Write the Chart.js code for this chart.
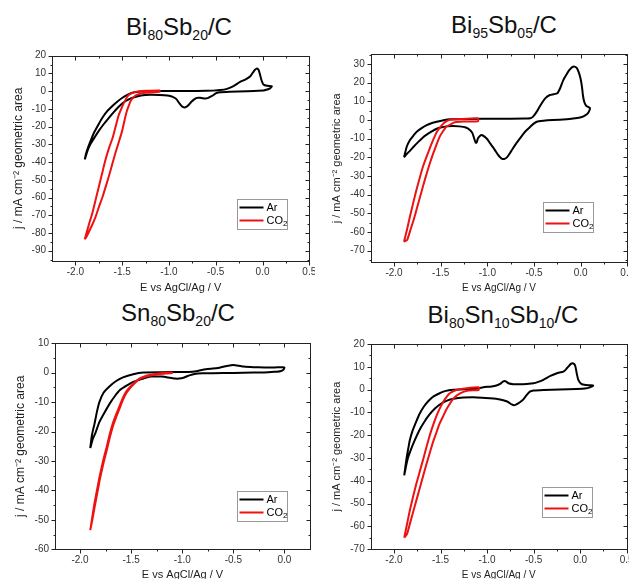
<!DOCTYPE html>
<html>
<head>
<meta charset="utf-8">
<script src="https://cdn.jsdelivr.net/npm/chart.js@4.4.1/dist/chart.umd.min.js"></script>
<style>
  html, body { margin: 0; padding: 0; background: #fff; overflow: hidden; }
  body { width: 629px; height: 579px; position: relative; font-family: 'Liberation Sans', Arial, sans-serif; }
  canvas { position: absolute; }
  .ttl { position: absolute; width: 240px; text-align: center; font-size: 24px; font-weight: 400; line-height: 24px; color: #111; white-space: nowrap; }
  .ttl span { font-size: 14px; position: relative; top: 5px; }
</style>
</head>
<body>
<div class="ttl" style="left:59px;top:15px">Bi<span>80</span>Sb<span>20</span>/C</div>
<div class="ttl" style="left:384px;top:13px">Bi<span>95</span>Sb<span>05</span>/C</div>
<div class="ttl" style="left:58px;top:301px">Sn<span>80</span>Sb<span>20</span>/C</div>
<div class="ttl" style="left:383px;top:303px">Bi<span>80</span>Sn<span>10</span>Sb<span>10</span>/C</div>

<canvas id="c1" width="315" height="255" style="left:0;top:40px"></canvas>
<canvas id="c2" width="311" height="255" style="left:318px;top:40px"></canvas>
<canvas id="c3" width="315" height="260" style="left:0;top:330px"></canvas>
<canvas id="c4" width="311" height="260" style="left:318px;top:330px"></canvas>

<script>
// Bi80Sb20/C
const bi80sb20ArE = [-1.90, -1.885, -1.864, -1.83, -1.80, -1.75, -1.71, -1.66, -1.605, -1.55, -1.497, -1.44, -1.39, -1.33, -1.28, -1.10, -0.80, -0.60, -0.53, -0.45, -0.38, -0.31, -0.24, -0.18, -0.13, -0.09, -0.07, -0.055, -0.04, -0.025, -0.01, 0.01, 0.05, 0.10,
  0.08, 0.05, 0.01, -0.17, -0.35, -0.47, -0.50, -0.52, -0.55, -0.58, -0.61, -0.64, -0.67, -0.70, -0.73, -0.76, -0.79, -0.815, -0.835, -0.86, -0.89, -0.92, -0.96, -1.0, -1.05, -1.10, -1.20, -1.30, -1.38, -1.43, -1.49, -1.54, -1.59, -1.64, -1.70, -1.75, -1.80, -1.84, -1.87, -1.90];
const bi80sb20ArJ = [-38.5, -35, -31.7, -27, -23.3, -18.5, -14.9, -11.3, -8.4, -5.8, -3.7, -2.0, -0.9, -0.3, 0, 0.1, 0.1, 0.2, 0.3, 0.6, 1.3, 2.8, 5.2, 6.6, 8.4, 11.5, 12.5, 12.7, 11.8, 9, 6, 3.8, 3.0, 2.7,
  1.6, 0.9, 0.4, 0, -0.3, -0.7, -1.2, -2.0, -3.0, -3.8, -4.2, -4.0, -3.7, -3.8, -4.6, -6.0, -7.8, -8.9, -9.2, -8.6, -6.8, -4.5, -3.2, -2.6, -2.3, -2.1, -2.0, -2.5, -3.6, -4.6, -6.5, -8.9, -11.8, -14.9, -18.8, -22.4, -26.5, -29.9, -33.5, -38.5];
const bi80sb20Co2E = [-1.90, -1.86, -1.82, -1.785, -1.75, -1.715, -1.68, -1.64, -1.60, -1.57, -1.54, -1.51, -1.48, -1.455, -1.43, -1.39, -1.35, -1.30, -1.25, -1.10,
  -1.10, -1.25, -1.30, -1.35, -1.38, -1.41, -1.43, -1.45, -1.475, -1.50, -1.535, -1.57, -1.605, -1.64, -1.675, -1.71, -1.75, -1.785, -1.83, -1.88, -1.90];
const bi80sb20Co2J = [-83.6, -76, -69, -61.5, -54, -46.5, -39, -32, -26, -20, -14, -10, -6.5, -4, -2.2, -1.0, -0.4, 0, 0.2, 0.4,
  -0.4, -0.9, -1.4, -2.2, -3.5, -5.6, -8.3, -11.2, -16.5, -22.4, -28.5, -34.5, -41, -47.6, -53.7, -59.7, -65.5, -71, -76.5, -82, -83.6];

// Bi95Sb05/C
const bi95sb05ArE = [-1.893, -1.864, -1.829, -1.79, -1.757, -1.70, -1.65, -1.60, -1.543, -1.47, -1.40, -1.2, -0.9, -0.6, -0.54, -0.51, -0.47, -0.44, -0.41, -0.38, -0.33, -0.29, -0.25, -0.22, -0.186, -0.15, -0.12, -0.09, -0.065, -0.04, -0.02, 0.0, 0.015, 0.025, 0.04, 0.06, 0.08, 0.10,
  0.09, 0.07, 0.03, -0.007, -0.08, -0.15, -0.3, -0.4, -0.47, -0.51, -0.54, -0.58, -0.61, -0.65, -0.69, -0.73, -0.76, -0.79, -0.82, -0.85, -0.88, -0.91, -0.94, -0.97, -1.0, -1.03, -1.06, -1.08, -1.1, -1.115, -1.125, -1.14, -1.16, -1.19, -1.23, -1.3, -1.37, -1.44, -1.5, -1.55, -1.6, -1.65, -1.69, -1.74, -1.79, -1.83, -1.864, -1.893];
const bi95sb05ArJ = [-20, -14.3, -10.7, -8.2, -6.25, -4.2, -2.7, -1.7, -0.9, -0.1, 0.4, 0.6, 0.7, 0.8, 0.9, 1.8, 4.5, 7.1, 9.5, 11.6, 13.4, 13.8, 14.3, 17, 21.4, 24.5, 26.8, 28.3, 28.6, 27.8, 25.5, 22, 17.5, 13, 9.5, 7.6, 7.0, 6.4,
  4.6, 3.2, 2.0, 1.4, 0.8, 0.4, 0, -0.4, -0.9, -2.2, -3.6, -5.5, -7.1, -9.8, -12.5, -15.5, -17.9, -20, -20.9, -20.5, -19, -16.8, -14.5, -12.5, -10.3, -8.9, -8.0, -8.5, -9.8, -12.0, -12.2, -10, -7, -5.2, -4.0, -3.4, -3.2, -3.4, -4.0, -4.8, -6.2, -7.8, -9.3, -11.7, -14.3, -16.5, -18.2, -20];
const bi95sb05Co2E = [-1.893, -1.86, -1.83, -1.795, -1.76, -1.725, -1.69, -1.65, -1.61, -1.575, -1.54, -1.505, -1.47, -1.43, -1.40, -1.29, -1.10,
  -1.10, -1.26, -1.33, -1.36, -1.40, -1.44, -1.475, -1.51, -1.545, -1.58, -1.615, -1.65, -1.685, -1.72, -1.755, -1.79, -1.825, -1.86, -1.893];
const bi95sb05Co2J = [-65.2, -58.5, -51.8, -44.5, -37.5, -31, -25, -19.5, -14.3, -10, -6.25, -3.8, -1.8, -0.5, 0.1, 0.5, 0.9,
  -0.7, -0.8, -1.1, -1.4, -2.5, -3.6, -6, -8.9, -13.2, -17.9, -23, -28.6, -34.7, -41, -47.3, -53.6, -59, -64.3, -65.2];

// Sn80Sb20/C
const sn80sb20ArE = [-1.90, -1.885, -1.87, -1.858, -1.835, -1.81, -1.77, -1.71, -1.65, -1.58, -1.48, -1.38, -1.2, -1.0, -0.9, -0.85, -0.8, -0.75, -0.7, -0.65, -0.6, -0.55, -0.5, -0.45, -0.4, -0.3, -0.2, -0.1, -0.02, 0.0,
  -0.01, -0.04, -0.1, -0.2, -0.4, -0.6, -0.8, -0.88, -0.93, -0.98, -1.03, -1.07, -1.12, -1.2, -1.3, -1.35, -1.42, -1.48, -1.55, -1.61, -1.66, -1.71, -1.76, -1.81, -1.85, -1.874, -1.90];
const sn80sb20ArJ = [-25.6, -21.5, -19, -17.3, -13.3, -9.9, -6.8, -4.6, -2.9, -1.6, -0.5, 0.1, 0.2, 0.25, 0.35, 0.6, 1.0, 1.3, 1.4, 1.6, 2.0, 2.4, 2.6, 2.4, 2.1, 1.9, 1.8, 1.8, 1.9, 1.8,
  1.0, 0.5, 0.3, 0.1, 0, -0.1, -0.2, -0.4, -0.9, -1.6, -2.0, -2.0, -1.7, -1.3, -1.3, -1.6, -2.4, -3.1, -4.5, -5.9, -8.0, -10.5, -13.5, -16.7, -20.5, -22.4, -25.6];
const sn80sb20Co2E = [-1.90, -1.88, -1.86, -1.835, -1.81, -1.775, -1.74, -1.71, -1.68, -1.645, -1.61, -1.58, -1.55, -1.515, -1.48, -1.42, -1.37, -1.32, -1.22, -1.10,
  -1.10, -1.22, -1.32, -1.37, -1.42, -1.475, -1.51, -1.545, -1.575, -1.605, -1.64, -1.675, -1.705, -1.735, -1.77, -1.805, -1.83, -1.855, -1.877, -1.90];
const sn80sb20Co2J = [-53.5, -49, -44.6, -40, -35.5, -30, -25.3, -21, -17.3, -14, -11, -8.5, -6.5, -5, -3.7, -2, -1.3, -0.8, -0.2, 0.1,
  -0.1, -0.4, -1.0, -1.5, -2.2, -3.9, -5.2, -6.8, -8.8, -11.4, -14.5, -17.8, -21.5, -25.8, -30.6, -36, -40.6, -45.2, -49.5, -53.5];

// Bi80Sn10Sb10/C
const bi80sn10sb10ArE = [-1.89, -1.875, -1.863, -1.845, -1.83, -1.80, -1.77, -1.73, -1.68, -1.63, -1.58, -1.52, -1.47, -1.41, -1.36, -1.22, -1.10, -1.04, -0.95, -0.90, -0.86, -0.83, -0.81, -0.79, -0.77, -0.72, -0.61, -0.50, -0.45, -0.395, -0.32, -0.25, -0.18, -0.15, -0.127, -0.10, -0.08, -0.065, -0.055, -0.045, -0.037, -0.02, 0.016, 0.06, 0.105, 0.14,
  0.105, 0.05, -0.037, -0.22, -0.395, -0.50, -0.54, -0.575, -0.61, -0.64, -0.665, -0.69, -0.71, -0.735, -0.76, -0.79, -0.86, -0.97, -1.11, -1.255, -1.36, -1.43, -1.50, -1.56, -1.62, -1.68, -1.73, -1.78, -1.82, -1.85, -1.87, -1.89];
const bi80sn10sb10ArJ = [-37.6, -33, -29.6, -25.5, -22.2, -18, -14.9, -11, -7.5, -5.0, -3.1, -1.8, -0.9, -0.3, -0.1, 0.15, 0.5, 1.0, 1.4, 1.8, 2.5, 3.5, 3.8, 3.4, 2.8, 2.4, 2.4, 2.8, 3.4, 4.3, 6.0, 7.2, 7.9, 9.0, 10.1, 11.3, 11.6, 11.2, 10.6, 9, 7.2, 4.3, 2.4, 2.0, 1.9, 1.8,
  1.0, 0.5, 0.3, 0.0, -0.15, -0.4, -0.9, -2.4, -4.3, -5.3, -6.0, -6.6, -6.9, -6.5, -5.8, -5.1, -4.3, -3.8, -3.4, -3.5, -4.0, -4.8, -6.3, -8.3, -11, -14.5, -18, -22.5, -26.5, -30, -33.5, -37.6];
const bi80sn10sb10Co2E = [-1.89, -1.86, -1.83, -1.795, -1.76, -1.72, -1.68, -1.645, -1.61, -1.575, -1.54, -1.505, -1.47, -1.435, -1.40, -1.33, -1.22, -1.09,
  -1.09, -1.20, -1.29, -1.36, -1.43, -1.47, -1.51, -1.545, -1.58, -1.615, -1.65, -1.685, -1.72, -1.755, -1.79, -1.825, -1.86, -1.89];
const bi80sn10sb10Co2J = [-64.9, -59, -53, -47, -41.3, -35.5, -29.6, -24.3, -19.3, -15, -11.2, -8, -5.3, -3.2, -1.6, -0.15, 0.6, 1.0,
  -0.15, -0.4, -1.6, -3.8, -8.2, -11.5, -14.9, -18.9, -22.9, -27.7, -32.5, -37.6, -42.8, -47.9, -53, -58.2, -63.4, -64.9];

const seriesLabels = ['Ar', 'CO₂'];
const seriesColors = ['#000000', '#ee1111'];
const xTitle = 'E vs AgCl/Ag / V';
const yTitle = 'j / mA cm⁻² geometric area';
const FONT = "'Liberation Sans', Arial, sans-serif";

// 枠と内向き/外向きの目盛り
const framePlugin = {
  id: 'frame',
  afterDatasetsDraw(chart) {
    const { ctx, chartArea: a, scales: { x, y } } = chart;
    const marks = s => {
      const t = s.ticks.map(k => k.value);
      const step = t[1] - t[0];
      const out = t.map(v => [v, 4]);
      t.forEach(v => [v - step / 2, v + step / 2].forEach(m => {
        if (m > s.min && m < s.max && !out.some(o => Math.abs(o[0] - m) < 1e-6)) out.push([m, 2]);
      }));
      return out;
    };
    const line = (x1, y1, x2, y2) => { ctx.beginPath(); ctx.moveTo(x1, y1); ctx.lineTo(x2, y2); ctx.stroke(); };
    ctx.save();
    ctx.strokeStyle = '#222';
    ctx.lineWidth = 1;
    const L = Math.round(a.left) + 0.5, T = Math.round(a.top) + 0.5, R = Math.round(a.right) + 0.5, B = Math.round(a.bottom) + 0.5;
    ctx.strokeRect(L, T, R - L, B - T);
    marks(x).forEach(([v, len]) => {
      const px = Math.round(x.getPixelForValue(v)) + 0.5;
      line(px, B, px, B + len);
      line(px, T, px, T + len);
    });
    marks(y).forEach(([v, len]) => {
      const py = Math.round(y.getPixelForValue(v)) + 0.5;
      line(L - len, py, L, py);
      line(R, py, R - len, py);
    });
    ctx.restore();
  }
};

// 枠付きの凡例（右下）
const boxLegend = {
  id: 'boxLegend',
  afterDraw(chart, args, opts) {
    const { ctx, chartArea: a } = chart;
    const w = 50, h = 30;
    const x = Math.round(a.right - opts.right - w) + 0.5;
    const y = Math.round(a.bottom - opts.bottom - h) + 0.5;
    ctx.save();
    ctx.fillStyle = '#fff';
    ctx.fillRect(x, y, w, h);
    ctx.strokeStyle = '#999';
    ctx.lineWidth = 1;
    ctx.strokeRect(x, y, w, h);
    chart.data.datasets.forEach((ds, i) => {
      const ly = y + 8 + i * 13;
      ctx.strokeStyle = ds.borderColor;
      ctx.lineWidth = 2;
      ctx.beginPath();
      ctx.moveTo(x + 2, ly);
      ctx.lineTo(x + 26, ly);
      ctx.stroke();
      ctx.fillStyle = '#000';
      ctx.textBaseline = 'middle';
      let tx = x + 29;
      for (const ch of ds.label) {
        const code = ch.charCodeAt(0);
        if (code >= 0x2080 && code <= 0x2089) {
          ctx.font = `8px ${FONT}`;
          const d = String(code - 0x2080);
          ctx.fillText(d, tx, ly + 3);
          tx += ctx.measureText(d).width;
        } else {
          ctx.font = `11px ${FONT}`;
          ctx.fillText(ch, tx, ly);
          tx += ctx.measureText(ch).width;
        }
      }
    });
    ctx.restore();
  }
};

const panels = [
  { id: 'c1', ar: [bi80sb20ArE, bi80sb20ArJ], co2: [bi80sb20Co2E, bi80sb20Co2J], xMin: -2.25, xMax: 0.5, yMin: -95.8, yMax: 20,
    yw: 52, xh: 34, pad: { top: 15.7, right: 5.7 }, yTitlePad: 11.8, xTitlePad: 0, yTitleSize: 12, xTitleSize: 11, legend: { right: 22, bottom: 32 } },
  { id: 'c2', ar: [bi95sb05ArE, bi95sb05ArJ], co2: [bi95sb05Co2E, bi95sb05Co2J], xMin: -2.25, xMax: 0.5, yMin: -76.2, yMax: 35.2,
    yw: 52.7, xh: 32.7, pad: { top: 14.3, right: 1.7 }, yTitlePad: 12.4, xTitlePad: 1, yTitleSize: 11, xTitleSize: 10, legend: { right: 34, bottom: 30 } },
  { id: 'c3', ar: [sn80sb20ArE, sn80sb20ArJ], co2: [sn80sb20Co2E, sn80sb20Co2J], xMin: -2.245, xMax: 0.25, yMin: -60, yMax: 10,
    yw: 55, xh: 40.7, pad: { top: 13.3, right: 5 }, yTitlePad: 13.5, xTitlePad: 8, yTitleSize: 12, xTitleSize: 11, legend: { right: 23, bottom: 28 } },
  { id: 'c4', ar: [bi80sn10sb10ArE, bi80sn10sb10ArJ], co2: [bi80sn10sb10Co2E, bi80sn10sb10Co2J], xMin: -2.25, xMax: 0.5, yMin: -70, yMax: 20,
    yw: 52.7, xh: 40.7, pad: { top: 14, right: 2.3 }, yTitlePad: 12.2, xTitlePad: 8.5, yTitleSize: 11, xTitleSize: 10, legend: { right: 34.5, bottom: 32 } }
];

const toPoints = (es, js) => es.map((e, i) => ({ x: e, y: js[i] }));

panels.forEach(p => {
  const ctx = document.getElementById(p.id).getContext('2d');
  new Chart(ctx, {
    type: 'scatter',
    data: {
      datasets: [p.ar, p.co2].map((s, i) => ({
        label: seriesLabels[i],
        data: toPoints(s[0], s[1]),
        showLine: true,
        borderColor: seriesColors[i],
        backgroundColor: seriesColors[i],
        borderWidth: 2,
        pointRadius: 0,
        tension: 0.15,
        order: 1 - i
      }))
    },
    options: {
      responsive: false,
      animation: false,
      layout: { padding: { left: 0, top: p.pad.top, right: p.pad.right, bottom: 0 } },
      plugins: {
        legend: { display: false },
        tooltip: { enabled: false },
        boxLegend: p.legend
      },
      scales: {
        x: {
          type: 'linear',
          min: p.xMin,
          max: p.xMax,
          afterFit: s => { s.height = p.xh; s.paddingLeft = 0; s.paddingRight = 0; },
          grid: { display: true, drawOnChartArea: false, drawTicks: true, tickLength: 4, tickColor: 'rgba(0,0,0,0)' },
          border: { display: false },
          ticks: {
            stepSize: 0.5, includeBounds: false, autoSkip: false, maxRotation: 0, padding: 1,
            color: '#333', font: { family: FONT, size: 10 },
            callback: v => (Math.abs(v) < 1e-9 ? 0 : v).toFixed(1)
          },
          title: { display: true, text: xTitle, color: '#222', font: { family: FONT, size: p.xTitleSize }, padding: { top: 0, bottom: p.xTitlePad } }
        },
        y: {
          type: 'linear',
          min: p.yMin,
          max: p.yMax,
          afterFit: s => { s.width = p.yw; s.paddingTop = 0; s.paddingBottom = 0; },
          grid: { display: true, drawOnChartArea: false, drawTicks: true, tickLength: 4, tickColor: 'rgba(0,0,0,0)' },
          border: { display: false },
          ticks: {
            stepSize: 10, includeBounds: false, autoSkip: false, padding: 2,
            color: '#333', font: { family: FONT, size: 10 }
          },
          title: { display: true, text: yTitle, color: '#222', font: { family: FONT, size: p.yTitleSize }, padding: { top: p.yTitlePad, bottom: 0 } }
        }
      }
    },
    plugins: [framePlugin, boxLegend]
  });
});
</script>
</body>
</html>
